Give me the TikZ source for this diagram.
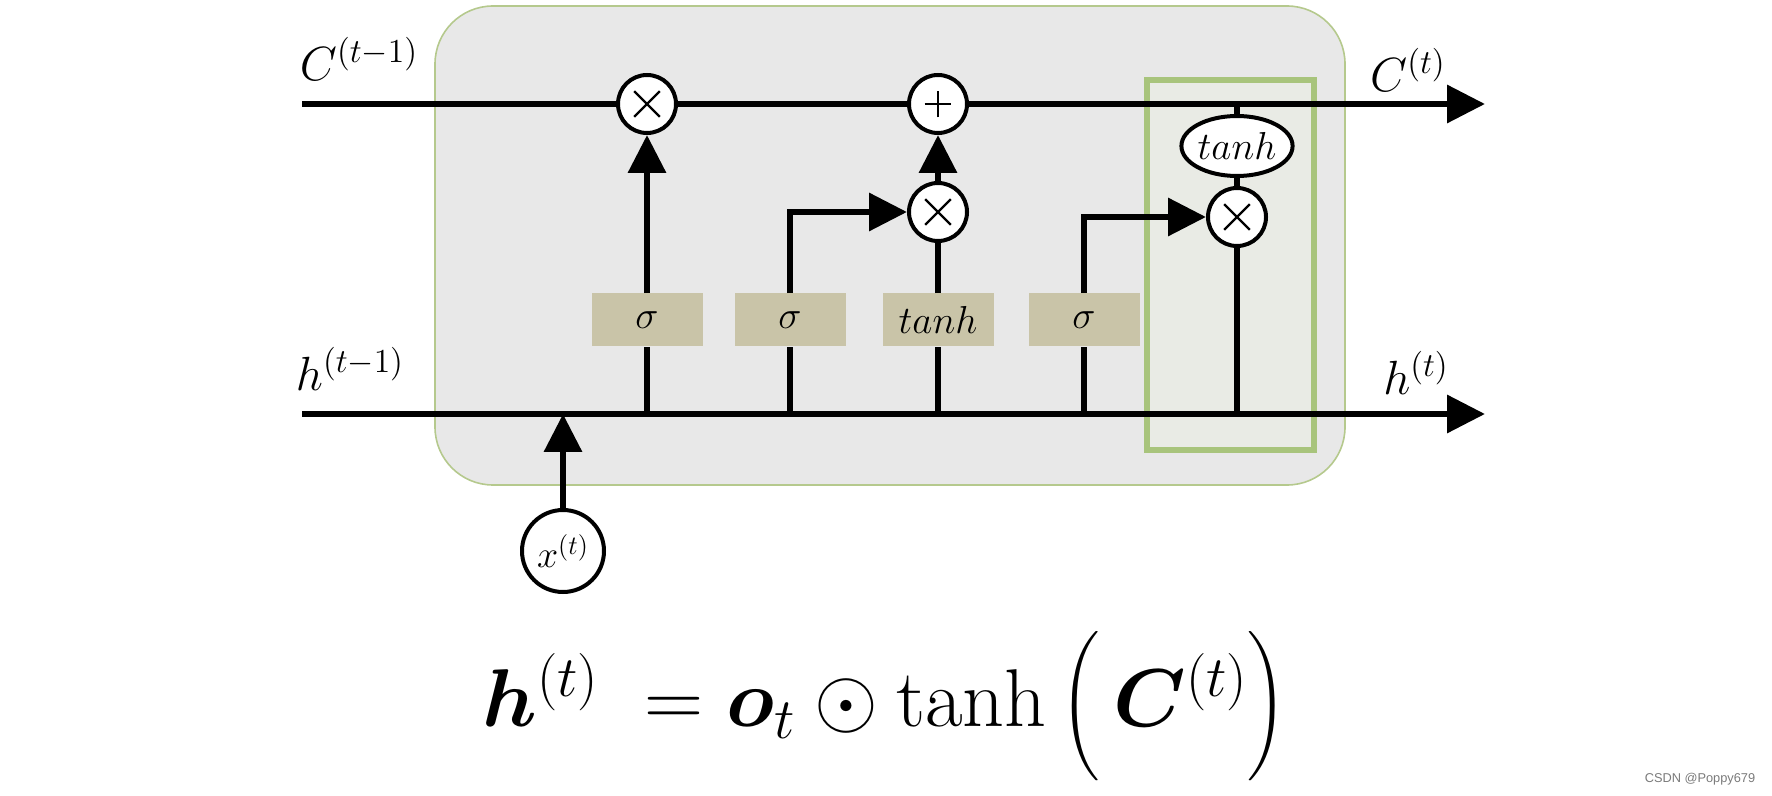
\RequirePackage{fix-cm}
\documentclass[tikz,border=0pt]{standalone}
\usepackage{amsmath,bm}
\usepackage{fontspec}
\newfontfamily\wmfont{Liberation Sans}
\usetikzlibrary{arrows.meta,shapes.geometric}
\definecolor{cellfill}{HTML}{E8E8E8}
\definecolor{cellborder}{HTML}{B5C98D}
\definecolor{hlborder}{HTML}{A8C47C}
\definecolor{hlfill}{HTML}{E9EBE5}
\definecolor{gatefill}{HTML}{C9C4A8}
\definecolor{wmgray}{HTML}{7A7A7A}
\begin{document}
\begin{tikzpicture}[x=0.5pt,y=-0.5pt,
  wire/.style={line width=3.25pt},
  arr/.style={wire,-{Triangle[length=19pt,width=18.5pt]}},
  op/.style={circle,draw,fill=white,line width=2pt,minimum size=29pt,inner sep=0pt},
  multop/.style={op,path picture={\draw[line width=1.1pt]
      ([shift={(-6.4pt,-6.4pt)}]path picture bounding box.center) -- ([shift={(6.4pt,6.4pt)}]path picture bounding box.center)
      ([shift={(-6.4pt,6.4pt)}]path picture bounding box.center) -- ([shift={(6.4pt,-6.4pt)}]path picture bounding box.center);}},
  addop/.style={op,path picture={\draw[line width=1.1pt]
      ([shift={(-6.7pt,0pt)}]path picture bounding box.center) -- ([shift={(6.7pt,0pt)}]path picture bounding box.center)
      ([shift={(0pt,-6.7pt)}]path picture bounding box.center) -- ([shift={(0pt,6.7pt)}]path picture bounding box.center);}},
  gatebox/.style={rectangle,fill=gatefill,minimum width=55.5pt,minimum height=26.5pt,inner sep=0pt,font=\fontsize{19.5}{22}\selectfont},
  lbl/.style={inner sep=0pt,font=\fontsize{24}{28}\selectfont}]
\useasboundingbox (0,0) rectangle (1772,796);
% cell background
\fill[cellfill,draw=cellborder,line width=0.8pt,rounded corners=29pt] (435,6) rectangle (1345,485);
% highlighted output region
\draw[hlborder,fill=hlfill,line width=3pt] (1147,80) rectangle (1314,450);
% nodes
\node[multop] (f) at (647,104) {};
\node[addop] (p) at (938,104) {};
\node[multop] (mi) at (938,212) {};
\node[multop] (mo) at (1237,217) {};
\node[ellipse,draw,fill=white,line width=2pt,minimum width=55.5pt,minimum height=30pt,inner sep=0pt,font=\fontsize{19.5}{22}\selectfont] (te) at (1237,146) {$tanh$};
\node[gatebox] (sf) at (647,320) {$\sigma$};
\node[gatebox] (si) at (790,320) {$\sigma$};
\node[gatebox] (sc) at (938,320) {$tanh$};
\node[gatebox] (so) at (1084,320) {$\sigma$};
\node[circle,draw,fill=white,line width=2pt,minimum size=41pt,inner sep=0pt,font=\fontsize{19}{22}\selectfont] (xt) at (563,551) {$x^{(t)}$};
\coordinate (cin) at (302,104);
\coordinate (cout) at (1485,104);
\coordinate (hin) at (302,414);
\coordinate (hout) at (1485,414);
\coordinate (cj) at (1237,104);
% cell state line
\draw[wire] (cin) -- (f.west);
\draw[wire] (f.east) -- (p.west);
\draw[arr] (p.east) -- (cout);
% hidden state line
\draw[arr] (hin) -- (hout);
% input
\draw[arr] (xt.north) -- (xt.north |- hin);
% gates from h line
\draw[wire] (sf.south |- hin) -- (sf.south);
\draw[wire] (si.south |- hin) -- (si.south);
\draw[wire] (sc.south |- hin) -- (sc.south);
\draw[wire] (so.south |- hin) -- (so.south);
% forget gate
\draw[arr] (sf.north) -- (f.south);
% input gate
\draw[arr] (si.north) -- (si.north |- mi.west) -- (mi.west);
\draw[wire] (sc.north) -- (mi.south);
\draw[arr] (mi.north) -- (p.south);
% output gate
\draw[arr] (so.north) -- (so.north |- mo.west) -- (mo.west);
\draw[wire] (cj) -- (te.north);
\draw[wire] (te.south) -- (mo.north);
\draw[wire] (mo.south) -- (mo.south |- hin);
% labels
\node[lbl] (lc0) at (359,59) {$C^{(t-1)}$};
\node[lbl] (lh0) at (350,369) {$h^{(t-1)}$};
\node[lbl] (lc1) at (1408,70) {$C^{(t)}$};
\node[lbl] (lh1) at (1416,373) {$h^{(t)}$};
% equation
\node[inner sep=0pt,font=\fontsize{41}{48}\selectfont] (eq) at (885,706)
  {$\bm{h}^{(t)} \;= \bm{o}_t \odot \tanh\Big(\,\bm{C}^{(t)}\Big)$};
% watermark
\node[inner sep=0pt,text=wmgray,font=\wmfont\fontsize{6.4}{8}\selectfont] (wm) at (1700,779) {CSDN @Poppy679};
\end{tikzpicture}
\end{document}
